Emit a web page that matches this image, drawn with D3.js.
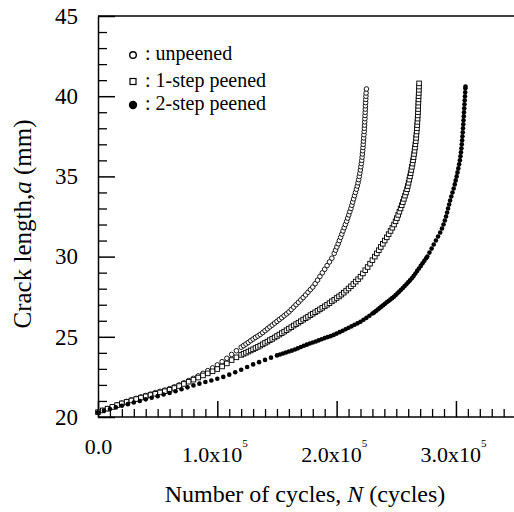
<!DOCTYPE html>
<html>
<head>
<meta charset="utf-8">
<script src="https://cdn.jsdelivr.net/npm/d3@7"></script>
<style>
body { margin: 0; background: #fff; }
text { font-family: "Liberation Serif", "Times New Roman", serif; fill: #000; }
</style>
</head>
<body>
<div id="chart"></div>
<script>
// N in thousands of cycles, a in mm
const unpeened = [
    [0,20.30],[4,20.41],[8,20.52],[12,20.63],[16,20.75],[20,20.87],[24,20.97],[28,21.07],[32,21.16],[36,21.25],
    [40,21.34],[44,21.43],[48,21.52],[52,21.60],[56,21.68],[60,21.77],[64,21.88],[68,22.00],[72,22.13],[76,22.27],
    [80,22.41],[84,22.56],[88,22.72],[92,22.89],[96,23.06],[100,23.25],[104,23.45],[108,23.66],[112,23.90],[116,24.13],
    [120,24.35],[122,24.45],[124,24.55],[126,24.65],[128,24.76],[130,24.86],[132,24.96],[134,25.05],[136,25.15],[138,25.26],
    [140,25.38],[142,25.50],[144,25.62],[146,25.73],[148,25.85],[150,25.96],[152,26.08],[154,26.19],[156,26.31],[158,26.43],
    [160,26.55],[162,26.70],[164,26.85],[166,27.00],[168,27.15],[170,27.30],[172,27.45],[174,27.61],[176,27.78],[178,27.94],
    [180,28.10],[182,28.31],[184,28.53],[186,28.76],[188,28.99],[190,29.21],[192,29.44],[194,29.67],[196,29.90],[198,30.20],
    [199.1,30.40],[200.2,30.60],[201.3,30.80],[202.3,31.00],[203.35,31.20],[204.35,31.40],[205.35,31.60],[206.35,31.80],[207.35,32.00],[208.4,32.20],
    [209.3,32.40],[210.2,32.60],[211.05,32.80],[212,33.00],[212.75,33.20],[213.5,33.40],[214.25,33.60],[215,33.80],[215.8,34.00],[216.6,34.20],
    [217.3,34.40],[217.95,34.60],[218.5,34.80],[219,35.00],[219.45,35.20],[219.9,35.40],[220.3,35.60],[220.7,35.80],[221.05,36.00],[221.35,36.20],
    [221.6,36.40],[221.85,36.60],[222.1,36.80],[222.3,37.00],[222.5,37.20],[222.7,37.40],[222.9,37.60],[223.1,37.80],[223.25,38.00],[223.4,38.20],
    [223.55,38.40],[223.7,38.60],[223.8,38.80],[223.95,39.00],[224.05,39.20],[224.15,39.40],[224.3,39.60],[224.4,39.80],[224.55,40.00],[224.7,40.20],
    [225,40.45]
];
const onestep = [
    [0,20.30],[4,20.41],[8,20.52],[12,20.63],[16,20.74],[20,20.85],[24,20.94],[28,21.03],[32,21.12],[36,21.21],
    [40,21.29],[44,21.37],[48,21.45],[52,21.53],[56,21.61],[60,21.70],[64,21.81],[68,21.93],[72,22.06],[76,22.20],
    [80,22.33],[84,22.46],[88,22.59],[92,22.72],[96,22.85],[100,22.99],[104,23.15],[108,23.34],[112,23.55],[116,23.72],
    [120,23.87],[122,23.94],[124,24.01],[126,24.08],[128,24.15],[130,24.22],[132,24.30],[134,24.37],[136,24.45],[138,24.53],
    [140,24.62],[142,24.70],[144,24.79],[146,24.87],[148,24.96],[150,25.05],[152,25.14],[154,25.23],[156,25.32],[158,25.41],
    [160,25.51],[162,25.60],[164,25.70],[166,25.79],[168,25.88],[170,25.97],[172,26.07],[174,26.16],[176,26.25],[178,26.35],
    [180,26.44],[182,26.53],[184,26.62],[186,26.71],[188,26.81],[190,26.90],[192,27.00],[194,27.10],[196,27.21],[198,27.31],
    [200,27.42],[202,27.52],[204,27.63],[206,27.75],[208,27.88],[210,28.01],[212,28.15],[214,28.29],[216,28.44],[218,28.59],
    [220,28.75],[222,28.95],[224,29.15],[226,29.35],[228,29.56],[230,29.78],[232,30.00],[233.7,30.20],[235.4,30.40],[237,30.60],
    [238.7,30.80],[240.3,31.00],[242,31.20],[243.6,31.40],[245.2,31.60],[246.7,31.80],[248.1,32.00],[249.4,32.20],[250.5,32.40],[251.6,32.60],
    [252.6,32.80],[253.6,33.00],[254.55,33.20],[255.5,33.40],[256.4,33.60],[257.3,33.80],[258.15,34.00],[259,34.20],[259.65,34.40],[260.3,34.60],
    [260.9,34.80],[261.5,35.00],[262.05,35.20],[262.6,35.40],[263.1,35.60],[263.6,35.80],[264.05,36.00],[264.5,36.20],[264.9,36.40],[265.3,36.60],
    [265.65,36.80],[266,37.00],[266.3,37.20],[266.6,37.40],[266.85,37.60],[267.1,37.80],[267.3,38.00],[267.5,38.20],[267.7,38.40],[267.85,38.60],
    [268,38.80],[268.15,39.00],[268.3,39.20],[268.4,39.40],[268.5,39.60],[268.6,39.80],[268.7,40.00],[268.8,40.20],[268.95,40.40],[269.05,40.60],
    [269.1,40.80]
];
const twostep = [
    [0,20.30],[5,20.40],[10,20.50],[15,20.60],[20,20.70],[25,20.80],[30,20.90],[35,21.00],[40,21.10],[45,21.20],
    [50,21.30],[55,21.40],[60,21.50],[65,21.61],[70,21.73],[75,21.85],[80,21.97],[85,22.08],[90,22.18],[95,22.28],
    [100,22.38],[105,22.50],[110,22.64],[115,22.79],[120,22.95],[125,23.12],[130,23.28],[135,23.42],[140,23.56],[145,23.70],
    [150,23.84],[152.5,23.90],[155,23.96],[157.5,24.02],[160,24.08],[162.5,24.14],[165,24.21],[167.5,24.28],[170,24.36],[172.5,24.44],
    [175,24.51],[177.5,24.58],[180,24.64],[182.5,24.71],[185,24.78],[187.5,24.85],[190,24.92],[192.5,24.98],[195,25.04],[197.5,25.12],
    [200,25.20],[202.5,25.29],[205,25.38],[207.5,25.47],[210,25.56],[212.5,25.65],[215,25.75],[217.5,25.84],[220,25.94],[222.5,26.06],
    [225,26.18],[227.5,26.31],[230,26.45],[231.5,26.52],[233,26.61],[234.5,26.70],[236,26.79],[237.5,26.88],[239,26.97],[240.5,27.06],
    [242,27.15],[243.5,27.23],[245,27.32],[246.5,27.41],[248,27.50],[249.5,27.60],[251,27.71],[252.5,27.82],[254,27.93],[255.5,28.04],
    [257,28.16],[258.5,28.28],[260,28.40],[261.5,28.52],[263,28.65],[264.5,28.79],[266,28.95],[267.5,29.11],[269,29.26],[270.5,29.42],
    [272,29.58],[273.5,29.74],[275,29.90],[276,30.00],[277.8,30.25],[279.6,30.50],[281.4,30.75],[283.2,31.00],[285,31.25],[286.8,31.50],
    [288.3,31.75],[289.6,32.00],[290.7,32.25],[291.7,32.50],[292.6,32.75],[293.4,33.00],[294.3,33.25],[295.1,33.50],[296.1,33.75],[297.1,34.00],
    [298.1,34.25],[299,34.50],[299.8,34.75],[300.6,35.00],[301.3,35.25],[302,35.50],[302.7,35.75],[303.3,36.00],[303.8,36.25],[304.2,36.50],
    [304.6,36.75],[304.9,37.00],[305.2,37.25],[305.45,37.50],[305.7,37.75],[305.9,38.00],[306.15,38.25],[306.35,38.50],[306.55,38.75],[306.75,39.00],
    [306.95,39.25],[307.15,39.50],[307.35,39.75],[307.55,40.00],[307.75,40.25],[307.9,40.50],[308,40.60]
];

const legendLabels = [": unpeened", ": 1-step peened", ": 2-step peened"];
const yMajorTicks = [20, 25, 30, 35, 40, 45];
const xMajorTicks = [0, 100, 200, 300];
const xTickLabels = ["0.0", "1.0x10", "2.0x10", "3.0x10"];
const xTickExponents = ["", "5", "5", "5"];

const serif = "'Liberation Serif', 'Times New Roman', serif";

function drawChart() {
    const width = 514, height = 512;
    const svg = d3.select("#chart").append("svg")
        .attr("width", width)
        .attr("height", height)
        .attr("font-family", serif);

    const x = d3.scaleLinear().domain([0, 350]).range([98, 515.6]);
    const y = d3.scaleLinear().domain([20, 45]).range([417, 16]);

    // top frame line
    svg.append("line")
        .attr("x1", x(0)).attr("x2", width)
        .attr("y1", y(45)).attr("y2", y(45))
        .style("stroke", "#000")
        .style("stroke-width", 1.5);

    const yMinor = d3.range(21, 45).filter(v => v % 5 !== 0);
    const xMinor = d3.range(10, 350, 10).filter(v => v % 100 !== 0);

    svg.append("g")
        .attr("transform", `translate(${x(0)},0)`)
        .call(d3.axisLeft(y).tickValues(yMinor).tickSize(-9).tickSizeOuter(0).tickFormat(""))
        .call(g => g.select(".domain").remove())
        .call(g => g.selectAll("line").style("stroke-width", 1.3));

    const yAxis = svg.append("g")
        .attr("transform", `translate(${x(0)},0)`)
        .call(d3.axisLeft(y).tickValues(yMajorTicks).tickSize(-17).tickSizeOuter(0).tickPadding(20))
        .attr("font-family", serif)
        .attr("font-size", 23);
    yAxis.select(".domain").style("stroke-width", 1.5);
    yAxis.selectAll("line").style("stroke-width", 1.5);
    yAxis.selectAll("text").style("font-family", serif);

    svg.append("g")
        .attr("transform", `translate(0,${y(20)})`)
        .call(d3.axisBottom(x).tickValues(xMinor).tickSize(-8).tickSizeOuter(0).tickFormat(""))
        .call(g => g.select(".domain").remove())
        .call(g => g.selectAll("line").style("stroke-width", 1.3));

    const xAxis = svg.append("g")
        .attr("transform", `translate(0,${y(20)})`)
        .call(d3.axisBottom(x).tickValues(xMajorTicks).tickSize(-16).tickSizeOuter(0).tickFormat(""))
        .attr("font-family", serif)
        .attr("font-size", 22);
    xAxis.select(".domain")
        .attr("d", `M${x(0)},0H${width}`)
        .style("stroke-width", 1.5);
    xAxis.selectAll("line").style("stroke-width", 1.5);
    xAxis.selectAll(".tick text")
        .attr("dy", null)
        .attr("y", (d, i) => xTickExponents[i] ? 45 : 37)
        .attr("dx", (d, i) => xTickExponents[i] ? -3 : 0)
        .style("font-family", serif)
        .each(function (d, i) {
            const t = d3.select(this);
            t.append("tspan").text(xTickLabels[i]);
            if (xTickExponents[i]) {
                t.append("tspan")
                    .attr("dy", -15)
                    .attr("font-size", 11)
                    .text(xTickExponents[i]);
            }
        });

    const xTitle = svg.append("text")
        .attr("x", 305)
        .attr("y", 502)
        .attr("text-anchor", "middle")
        .style("font-size", "24px");
    xTitle.append("tspan").text("Number of cycles, ");
    xTitle.append("tspan").style("font-style", "italic").text("N");
    xTitle.append("tspan").text(" (cycles)");

    const yTitle = svg.append("text")
        .attr("transform", "translate(31,224) rotate(-90)")
        .attr("text-anchor", "middle")
        .style("font-size", "25px");
    yTitle.append("tspan").text("Crack length,");
    yTitle.append("tspan").style("font-style", "italic").text("a");
    yTitle.append("tspan").text(" (mm)");

    const plot = svg.append("g");

    plot.append("g").selectAll("circle")
        .data(unpeened)
        .enter()
        .append("circle")
        .attr("cx", d => x(d[0]))
        .attr("cy", d => y(d[1]))
        .attr("r", 2.3)
        .style("fill", "#fff")
        .style("stroke", "#000")
        .style("stroke-width", 0.9);

    plot.append("g").selectAll("rect")
        .data(onestep)
        .enter()
        .append("rect")
        .attr("x", d => x(d[0]) - 2.3)
        .attr("y", d => y(d[1]) - 2.3)
        .attr("width", 4.6)
        .attr("height", 4.6)
        .style("fill", "#fff")
        .style("stroke", "#000")
        .style("stroke-width", 0.9);

    plot.append("g").selectAll("circle")
        .data(twostep)
        .enter()
        .append("circle")
        .attr("cx", d => x(d[0]))
        .attr("cy", d => y(d[1]))
        .attr("r", 2.3)
        .style("fill", "#000");

    // legend
    const legendY = [55, 81.5, 105];
    const legend = svg.append("g");
    legend.append("circle")
        .attr("cx", 133).attr("cy", legendY[0]).attr("r", 3.3)
        .style("fill", "#fff").style("stroke", "#000").style("stroke-width", 1.4);
    legend.append("rect")
        .attr("x", 130).attr("y", legendY[1] - 3).attr("width", 6).attr("height", 6)
        .style("fill", "#fff").style("stroke", "#000").style("stroke-width", 1.2);
    legend.append("circle")
        .attr("cx", 133).attr("cy", legendY[2]).attr("r", 4.2)
        .style("fill", "#000");
    legend.selectAll("text")
        .data(legendLabels)
        .enter()
        .append("text")
        .attr("x", 145)
        .attr("y", (d, i) => legendY[i] + 5)
        .style("font-size", "20px")
        .text(d => d);
}

drawChart();
</script>
</body>
</html>
